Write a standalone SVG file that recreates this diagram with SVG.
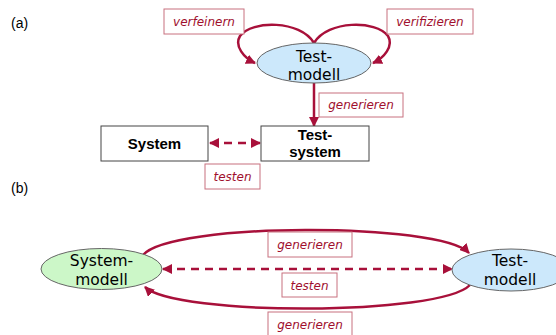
<svg xmlns="http://www.w3.org/2000/svg" width="556" height="335" viewBox="0 0 556 335">
<defs>
<marker id="ah" viewBox="0 0 10 10" refX="9" refY="5" markerWidth="4" markerHeight="4" orient="auto-start-reverse" markerUnits="strokeWidth">
<path d="M0,0 L10,5 L0,10 z" fill="#a8103a"/>
</marker>
<style>
.conn{fill:none;stroke:#a8103a;stroke-width:2.5}
.dash{stroke-dasharray:8,6}
.lbl rect{fill:#fff;stroke:#c8707f;stroke-width:1}
.lbl text{font-family:"DejaVu Sans",sans-serif;font-style:italic;font-size:12px;fill:#a0102e;text-anchor:middle}
.ell{stroke:#666;stroke-width:1}
.et{font-family:"DejaVu Sans",sans-serif;font-size:15.5px;fill:#000;text-anchor:middle}
.box{fill:#fff;stroke:#444;stroke-width:1}
.bt{font-family:"Liberation Sans",Arial,sans-serif;font-weight:bold;font-size:15px;fill:#000;text-anchor:middle}
.sec{font-family:"Liberation Sans",Arial,sans-serif;font-size:14px;fill:#000}
</style>
</defs>
<rect width="556" height="335" fill="#fff"/>
<text class="sec" x="11" y="28">(a)</text>
<text class="sec" x="11" y="193">(b)</text>

<g id="connectors">
<path class="conn" d="M314,43 C300,20 252,20 240,36 C234,46 244,58 255,63" marker-end="url(#ah)"/>
<path class="conn" d="M314,43 C328,20 376,20 388,36 C394,46 384,58 373,63" marker-end="url(#ah)"/>
<path class="conn" d="M314,83 L314,126" marker-end="url(#ah)"/>
<path class="conn dash" d="M210,143 L260,143" marker-start="url(#ah)" marker-end="url(#ah)"/>
<path class="conn" d="M143,255 C170,222 440,222 469,253" marker-end="url(#ah)"/>
<path class="conn" d="M470,285 C440,316 175,316 145,287" marker-end="url(#ah)"/>
<path class="conn dash" d="M163,269 L452,269" marker-start="url(#ah)" marker-end="url(#ah)"/>
</g>

<g id="lbl-verfeinern" class="lbl"><rect x="164" y="9" width="80" height="25"/><text x="204" y="26">verfeinern</text></g>
<g id="lbl-verifizieren" class="lbl"><rect x="387" y="9" width="86" height="25"/><text x="430" y="26">verifizieren</text></g>
<g id="lbl-generieren-a" class="lbl"><rect x="319" y="93" width="84" height="24"/><text x="361" y="109">generieren</text></g>
<g id="lbl-testen-a" class="lbl"><rect x="205" y="164" width="55" height="25"/><text x="232.5" y="181">testen</text></g>
<g id="lbl-generieren-b1" class="lbl"><rect x="268" y="232" width="84" height="25"/><text x="310" y="249">generieren</text></g>
<g id="lbl-testen-b" class="lbl"><rect x="282" y="273" width="55" height="24"/><text x="309.5" y="290">testen</text></g>
<g id="lbl-generieren-b2" class="lbl"><rect x="268" y="312" width="84" height="26"/><text x="310" y="329">generieren</text></g>

<g id="testmodell-a">
<ellipse class="ell" cx="314" cy="63" rx="57" ry="20" fill="#cce8fb"/>
<text class="et" x="314" y="62">Test-</text>
<text class="et" x="314" y="80">modell</text>
</g>
<g id="system">
<rect class="box" x="101" y="126" width="107" height="35"/>
<text class="bt" x="154.5" y="149">System</text>
</g>
<g id="testsystem">
<rect class="box" x="261" y="126" width="108" height="35"/>
<text class="bt" x="315" y="140">Test-</text>
<text class="bt" x="315" y="157">system</text>
</g>
<g id="systemmodell">
<ellipse class="ell" cx="101.5" cy="269" rx="60.5" ry="20.5" fill="#ccf7c8"/>
<text class="et" x="101.5" y="266">System-</text>
<text class="et" x="101.5" y="285">modell</text>
</g>
<g id="testmodell-b">
<ellipse class="ell" cx="511" cy="270" rx="59" ry="21" fill="#cce8fb"/>
<text class="et" x="510" y="266">Test-</text>
<text class="et" x="510" y="285">modell</text>
</g>
</svg>
